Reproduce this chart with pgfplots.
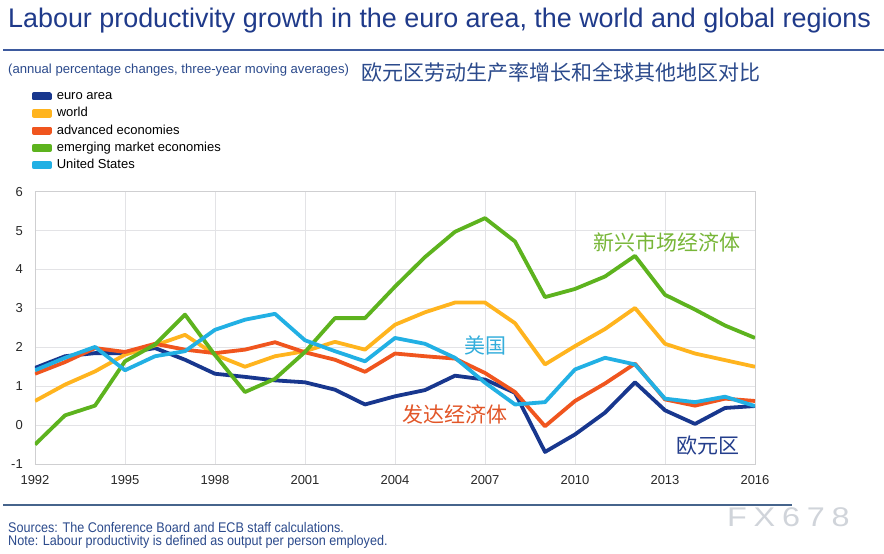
\documentclass[border=0pt]{standalone}
\usepackage{fontspec}
\setmainfont{Liberation Sans}
\newfontfamily\cjk{Noto Sans CJK SC}
\newfontfamily\narrowfont[FakeStretch=0.9]{Liberation Sans}
\newfontfamily\widefont[FakeStretch=1.2,LetterSpace=25]{Liberation Sans}
\usepackage{pgfplots}
\pgfplotsset{compat=1.18}
\usepackage{pgfplotstable}
\definecolor{euroc}{HTML}{18378E}
\definecolor{worldc}{HTML}{FFB41E}
\definecolor{advc}{HTML}{F0551E}
\definecolor{emgc}{HTML}{5DB31E}
\definecolor{usc}{HTML}{22B0E4}
\definecolor{titlec}{HTML}{1F3A8A}
\definecolor{subc}{HTML}{2B4A8C}
\definecolor{gridc}{HTML}{E3E3E6}
\pgfplotstableread{
year euro world adv emg us
1992 1.47 0.62 1.32 -0.50 1.41
1993 1.77 1.04 1.62 0.25 1.73
1994 1.85 1.38 1.98 0.50 2.01
1995 1.85 1.81 1.88 1.64 1.41
1996 1.98 2.05 2.09 2.07 1.77
1997 1.68 2.32 1.94 2.84 1.90
1998 1.32 1.81 1.85 1.80 2.45
1999 1.24 1.50 1.94 0.85 2.71
2000 1.15 1.77 2.13 1.19 2.86
2001 1.10 1.90 1.87 1.88 2.18
2002 0.91 2.14 1.68 2.75 1.90
2003 0.53 1.94 1.37 2.75 1.64
2004 0.74 2.58 1.84 3.56 2.24
2005 0.90 2.90 1.77 4.32 2.09
2006 1.27 3.15 1.71 4.97 1.73
2007 1.17 3.15 1.34 5.32 1.09
2008 0.83 2.62 0.85 4.72 0.53
2009 -0.69 1.56 -0.03 3.29 0.59
2010 -0.24 2.03 0.62 3.50 1.43
2011 0.32 2.47 1.07 3.82 1.73
2012 1.10 3.01 1.58 4.35 1.56
2013 0.38 2.09 0.66 3.35 0.68
2014 0.03 1.84 0.50 2.97 0.59
2015 0.44 1.67 0.68 2.56 0.73
2016 0.49 1.50 0.62 2.24 0.49
}\datatable
\begin{document}
\begin{tikzpicture}[x=1pt,y=1pt]
\useasboundingbox (0,0) rectangle (884,554);
\fill[white] (0,0) rectangle (884,554);
% title
\node[anchor=base west, inner sep=0pt, text=titlec, font=\fontsize{26.9}{30}\selectfont] at (8,526) {Labour productivity growth in the euro area, the world and global regions};
\draw[color={rgb,255:red,61;green,90;blue,158}, line width=1.5pt] (3,504) -- (884,504);
\node[anchor=base west, inner sep=0pt, text=subc, font=\fontsize{13.1}{15}\selectfont] at (8,480) {(annual percentage changes, three-year moving averages)};
\node[anchor=base west, inner sep=0pt, text=subc, font=\cjk\fontsize{21}{24}\selectfont] at (361,473.5) {欧元区劳动生产率增长和全球其他地区对比};
\begin{axis}[
  at={(35pt,90pt)}, anchor=south west,
  scale only axis, width=720pt, height=272.3pt,
  xmin=1992, xmax=2016, ymin=-1, ymax=6,
  xtick={1992,1995,...,2016}, ytick={-1,0,...,6},
  /pgf/number format/1000 sep={},
  /pgf/number format/assume math mode=true,
  grid=major, major grid style={gridc, line width=0.9pt},
  axis line style={draw=gridc!80!gray, line width=0.9pt},
  major tick length=0pt,
  tick label style={font=\fontsize{13}{15}\selectfont, text={rgb,255:red,40;green,40;blue,40}},
  xticklabel style={inner sep=0pt, yshift=-11.5pt},
  yticklabel style={inner sep=0pt, xshift=-12pt},
  legend style={at={(axis description cs:-0.0042,1.3724)}, anchor=north west, draw=none, fill=none,
    inner sep=0pt, outer sep=0pt, row sep=5.2pt, font=\fontsize{13}{15}\selectfont,
    nodes={inner sep=0pt, text height=9.4pt, text depth=2.6pt},
    /tikz/every odd column/.append style={column sep=5pt}},
  legend cell align=left,
  legend image code/.code={\fill[#1] (0pt,-2.2pt) rectangle (16pt,2.2pt);},
  every axis plot/.append style={line width=3.8pt, line join=round},
]
\addplot[euroc] table[x=year,y=euro] {\datatable};
\addlegendentry{euro area}
\addplot[worldc] table[x=year,y=world] {\datatable};
\addlegendentry{world}
\addplot[advc] table[x=year,y=adv] {\datatable};
\addlegendentry{advanced economies}
\addplot[emgc] table[x=year,y=emg] {\datatable};
\addlegendentry{emerging market economies}
\addplot[usc] table[x=year,y=us] {\datatable};
\addlegendentry{United States}
\end{axis}
% Chinese labels
\node[anchor=base west, inner sep=0pt, text={rgb,255:red,120;green,182;blue,56}, font=\cjk\fontsize{21}{24}\selectfont] at (593,303.5) {新兴市场经济体};
\node[anchor=base west, inner sep=0pt, text={rgb,255:red,52;green,174;blue,220}, font=\cjk\fontsize{21}{24}\selectfont] at (464,200.5) {美国};
\node[anchor=base west, inner sep=0pt, text={rgb,255:red,226;green,86;blue,40}, font=\cjk\fontsize{21}{24}\selectfont] at (402,131) {发达经济体};
\node[anchor=base west, inner sep=0pt, text={rgb,255:red,36;green,62;blue,140}, font=\cjk\fontsize{21}{24}\selectfont] at (676,100.5) {欧元区};
% bottom
\draw[color={rgb,255:red,70;green,100;blue,140}, line width=1.5pt] (3,49) -- (792,49);
\node[anchor=base west, inner sep=0pt, text=subc, font=\narrowfont\fontsize{14}{15}\selectfont] at (8,21.5) {Sources: The Conference Board and ECB staff calculations.};
\node[anchor=base west, inner sep=0pt, text=subc, font=\narrowfont\fontsize{14}{15}\selectfont] at (8,8) {Note: Labour productivity is defined as output per person employed.};
\node[anchor=base west, inner sep=0pt, text={rgb,255:red,208;green,212;blue,218}, font=\widefont\fontsize{27}{30}\selectfont] at (727,27) {FX678};
\end{tikzpicture}
\end{document}
